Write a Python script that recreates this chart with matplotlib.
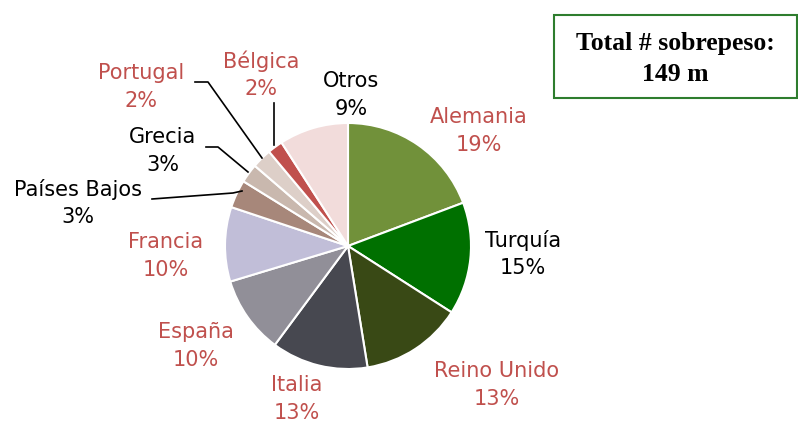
import matplotlib
matplotlib.use("Agg")
import matplotlib.pyplot as plt
from matplotlib.patches import FancyBboxPatch

# Data (share of total)
countries = ["Alemania", "Turquía", "Reino Unido", "Italia", "España", "Francia",
             "Países Bajos", "Grecia", "Portugal", "Bélgica", "Otros"]
shares = [19.3, 14.8, 13.4, 12.7, 10.2, 9.8, 3.7, 2.5, 2.6, 2.0, 9.1]
pct_labels = ["19%", "15%", "13%", "13%", "10%", "10%", "3%", "3%", "2%", "2%", "9%"]
colors = ["#71913A", "#007000", "#394915", "#474850", "#918F98", "#C1BED8",
          "#A7877A", "#C9B8AE", "#DDCFC8", "#C0504D", "#F2DCDB"]
red_label = [True, False, True, True, True, True, False, False, True, True, False]
total_text = "Total # sobrepeso:\n149 m"

W, H = 798, 424
fig = plt.figure(figsize=(W / 100, H / 100), dpi=100)
ax = fig.add_axes([0, 0, 1, 1])

cx, cy, r = 348, H - 246, 123
ax.pie(shares, colors=colors, startangle=90, counterclock=False,
       center=(cx, cy), radius=r, frame=True,
       wedgeprops=dict(edgecolor="white", linewidth=1.5))
ax.set_xlim(0, W)
ax.set_ylim(0, H)
ax.set_aspect("equal")
ax.axis("off")

# label block centres in pixel coords (x, y from top)
label_pos = [(479, 131), (523, 254), (497, 385), (297, 399), (196, 346), (166, 256),
             (78, 203), (163, 151), (141, 87), (261, 75), (351, 95)]
for name, pct, (lx, ly), red in zip(countries, pct_labels, label_pos, red_label):
    ax.text(lx, H - ly, name + "\n" + pct, ha="center", va="center",
            fontsize=15, color="#C0504D" if red else "black",
            linespacing=1.45, family="DejaVu Sans")

# leader lines
leaders = {
    "Países Bajos": [(152, 199), (233, 193), (242, 191)],
    "Grecia": [(206, 147), (218, 147), (248, 172)],
    "Portugal": [(195, 82), (208, 82), (262, 158)],
    "Bélgica": [(274, 103), (274, 145)],
}
for pts in leaders.values():
    xs = [p[0] for p in pts]
    ys = [H - p[1] for p in pts]
    ax.plot(xs, ys, color="black", linewidth=1.2)

# total box
box = FancyBboxPatch((554, H - 98), 243, 83, boxstyle="square,pad=0",
                     facecolor="white", edgecolor="#2E7D2E", linewidth=1.5)
ax.add_patch(box)
ax.text(554 + 243 / 2, H - 59, total_text, ha="center", va="center",
        fontsize=18.5, fontweight="bold", family="Liberation Serif", linespacing=1.4)

fig.savefig("out.png", dpi=100)
